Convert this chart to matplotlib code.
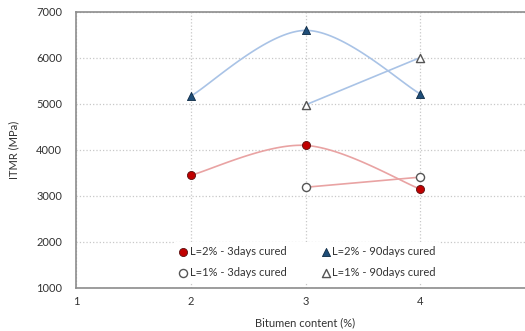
import numpy as np
import matplotlib
matplotlib.use("Agg")
from matplotlib import pyplot as plt

# data
bitumen_a = [2, 3, 4]
l2_3days = [3450, 4100, 3150]
l2_90days = [5170, 6600, 5220]
bitumen_b = [3, 4]
l1_3days = [3190, 3410]
l1_90days = [4980, 6010]

x_ticks = [1, 2, 3, 4]
y_ticks = [1000, 2000, 3000, 4000, 5000, 6000, 7000]


def smooth(xs, ys, n=40):
    # catmull-rom smoothing, end points repeated (like excel's smoothed line)
    xs = np.asarray(xs, float)
    ys = np.asarray(ys, float)
    px = np.concatenate([[xs[0]], xs, [xs[-1]]])
    py = np.concatenate([[ys[0]], ys, [ys[-1]]])
    out_x, out_y = [], []
    t = np.linspace(0, 1, n)
    for i in range(1, len(px) - 2):
        for p, out in ((px, out_x), (py, out_y)):
            p0, p1, p2, p3 = p[i - 1], p[i], p[i + 1], p[i + 2]
            m1 = (p2 - p0) / 2
            m2 = (p3 - p1) / 2
            h00 = 2 * t**3 - 3 * t**2 + 1
            h10 = t**3 - 2 * t**2 + t
            h01 = -2 * t**3 + 3 * t**2
            h11 = t**3 - t**2
            out.extend(h00 * p1 + h10 * m1 + h01 * p2 + h11 * m2)
    return np.array(out_x), np.array(out_y)


plt.rcParams['font.family'] = ['Lato', 'DejaVu Sans']

fig = plt.figure(figsize=(5.25, 3.31), dpi=100)
W, H = 525, 331
ax = fig.add_axes([76 / W, 1 - 288 / H, (535 - 76) / W, (288 - 12) / H])

red = '#C00000'
navy = '#1F4E79'
red_line = '#E9A3A3'
blue_line = '#A9C3E6'

sx, sy = smooth(bitumen_a, l2_3days)
ax.plot(sx, sy, color=red_line, lw=1.2, zorder=2)
sx, sy = smooth(bitumen_a, l2_90days)
ax.plot(sx, sy, color=blue_line, lw=1.2, zorder=2)
ax.plot(bitumen_b, l1_3days, color=red_line, lw=1.2, zorder=2)
ax.plot(bitumen_b, l1_90days, color=blue_line, lw=1.2, zorder=2)

h1 = ax.scatter(bitumen_a, l2_3days, marker='o', s=34, facecolor=red,
                edgecolor='#5a1010', lw=0.6, zorder=3, label='L=2% - 3days cured')
h2 = ax.scatter(bitumen_a, l2_90days, marker='^', s=34, facecolor=navy,
                edgecolor='#0d2a44', lw=0.6, zorder=3, label='L=2% - 90days cured')
h3 = ax.scatter(bitumen_b, l1_3days, marker='o', s=34, facecolor='white',
                edgecolor='#555555', lw=1.0, zorder=3, label='L=1% - 3days cured')
h4 = ax.scatter(bitumen_b, l1_90days, marker='^', s=34, facecolor='white',
                edgecolor='#555555', lw=1.0, zorder=3, label='L=1% - 90days cured')

ax.set_xlim(1, 5)
ax.set_ylim(1000, 7000)
ax.set_xticks(x_ticks)
ax.set_yticks(y_ticks)
ax.xaxis.set_minor_locator(matplotlib.ticker.FixedLocator([5]))
ax.tick_params(length=0, labelsize=8, colors='#333333', pad=6)
ax.tick_params(axis='y', pad=10)
ax.grid(True, color='#c8c8c8', linestyle=':', lw=0.9)
ax.set_axisbelow(True)
for s in ax.spines.values():
    s.set_color('#8c8c8c')
    s.set_linewidth(1.2)

ax.set_xlabel('Bitumen content (%)', fontsize=8, color='#333333', labelpad=7)
ax.set_ylabel('ITMR (MPa)', fontsize=8, color='#333333', labelpad=12)

leg = ax.legend(handles=[h1, h3, h2, h4], ncol=2, loc='lower left',
                bbox_to_anchor=(0.2, 0.0), frameon=True, fontsize=8,
                handletextpad=0.1, handlelength=1.0, columnspacing=3.0,
                borderpad=0.4, labelspacing=0.9, labelcolor='#333333')
leg.get_frame().set_edgecolor('none')
leg.get_frame().set_facecolor('white')
leg.get_frame().set_alpha(1)

fig.savefig('out.png', dpi=100)
